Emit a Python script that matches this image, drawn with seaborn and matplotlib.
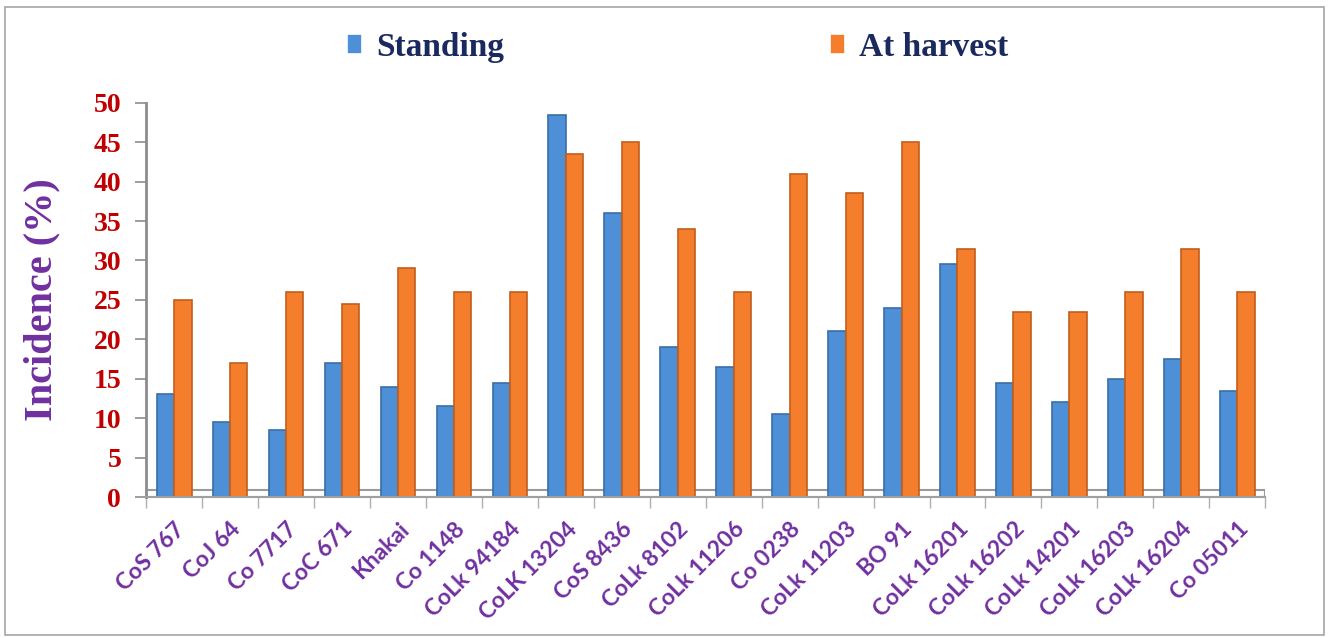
import matplotlib
matplotlib.use("Agg")
import matplotlib.pyplot as plt
import seaborn as sns
import pandas as pd
from matplotlib.patches import Rectangle

# data
varieties = ['CoS 767', 'CoJ 64', 'Co 7717', 'CoC 671', 'Khakai', 'Co 1148', 'CoLk 94184',
             'CoLK 13204', 'CoS 8436', 'CoLk 8102', 'CoLk 11206', 'Co 0238', 'CoLk 11203',
             'BO 91', 'CoLk 16201', 'CoLk 16202', 'CoLk 14201', 'CoLk 16203', 'CoLk 16204',
             'Co 05011']
standing = [13, 9.5, 8.5, 17, 14, 11.5, 14.5, 48.5, 36, 19, 16.5, 10.5, 21, 24,
            29.5, 14.5, 12, 15, 17.5, 13.5]
at_harvest = [25, 17, 26, 24.5, 29, 26, 26, 43.5, 45, 34, 26, 41, 38.5, 45,
              31.5, 23.5, 23.5, 26, 31.5, 26]
series = ['Standing', 'At harvest']
y_ticks = [0, 5, 10, 15, 20, 25, 30, 35, 40, 45, 50]

df = pd.DataFrame({
    'variety': varieties * 2,
    'phase': [series[0]] * len(varieties) + [series[1]] * len(varieties),
    'incidence': standing + at_harvest,
})

sns.set_style('white')
plt.rcParams['font.family'] = ['Liberation Serif', 'DejaVu Serif']

fig = plt.figure(figsize=(13.29, 6.38), dpi=100)
ax = fig.add_axes([0.110, 0.221, 0.842, 0.618])

warna = {'Standing': '#4E90D8', 'At harvest': '#F47E2C'}
sns.barplot(data=df, x='variety', y='incidence', hue='phase', palette=warna,
            width=0.62, gap=0, ax=ax, linewidth=1.2, saturation=1)

# darker edge per series
for cont, ec in zip(ax.containers, ['#3A6EA6', '#C25E1C']):
    for p in cont:
        p.set_edgecolor(ec)

# 3D-ish floor band
ax.axhspan(0, 0.9, facecolor='white', edgecolor='#9A9A9A', linewidth=1.5, zorder=0.5)

ax.set_xlim(-0.5, len(varieties) - 0.5)
ax.set_ylim(0, 50)
ax.set_yticks(y_ticks)
ax.set_yticklabels([str(t) for t in y_ticks], fontsize=20, fontweight='bold', color='#C00000')
ax.tick_params(axis='y', left=True, length=8, width=1.2, color='#8C8C8C', pad=10)

ax.set_xticks(range(len(varieties)))
ax.set_xticklabels(varieties, rotation=45, ha='right', rotation_mode='anchor',
                   fontsize=16.5, fontweight='bold', color='#7030A0', family='Lato')
ax.tick_params(axis='x', bottom=False, pad=12)
ax.set_xticks([i + 0.5 for i in range(-1, len(varieties))], minor=True)
ax.tick_params(axis='x', which='minor', bottom=True, length=8, width=1, color='#B0B0B0')

ax.set_xlabel('')
ax.set_ylabel('Incidence (%)', fontsize=29, fontweight='bold', color='#7030A0', labelpad=24)

for side in ['top', 'right']:
    ax.spines[side].set_visible(False)
ax.spines['left'].set_color('#8C8C8C')
ax.spines['left'].set_linewidth(2)
ax.spines['bottom'].set_color('#A0A0A0')
ax.spines['bottom'].set_linewidth(1.5)

# legend on top
handles, labels = ax.get_legend_handles_labels()
if ax.legend_:
    ax.legend_.remove()
leg = fig.legend(handles, labels, loc='center', bbox_to_anchor=(0.51, 0.926), ncol=2,
                 frameon=False, handlelength=0.45, handleheight=0.55, handletextpad=0.4,
                 columnspacing=9.8, prop={'size': 24, 'weight': 'bold'})
for t in leg.get_texts():
    t.set_color('#1B2A5E')

# frame around the whole picture
fig.patches.append(Rectangle((0.004, 0.004), 0.992, 0.985, transform=fig.transFigure,
                             fill=False, edgecolor='#A6A6A6', linewidth=1.2))

plt.savefig('out.png', dpi=100)
plt.close()
